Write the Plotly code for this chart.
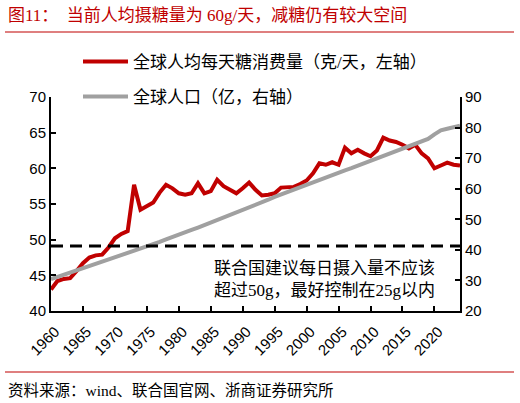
import plotly.graph_objects as go

years = list(range(1960, 2025))
sugar = [43.0, 44.2, 44.5, 44.6, 45.6, 46.7, 47.5, 47.8, 47.9, 48.9,
         50.2, 50.8, 51.2, 57.7, 54.2, 54.7, 55.2, 56.6, 57.7, 57.2,
         56.5, 56.3, 56.5, 57.9, 56.5, 56.8, 58.4, 57.5, 57.0, 56.5,
         57.2, 58.0, 57.0, 56.2, 56.3, 56.5, 57.3, 57.4, 57.4, 57.8,
         58.3, 59.3, 60.7, 60.5, 60.85, 60.5, 62.9, 62.1, 62.6, 62.1,
         61.7, 62.5, 64.3, 63.9, 63.7, 63.3, 62.8, 63.3, 62.1, 61.4,
         60.0, 60.4, 60.8, 60.5, 60.4]
population = [30.4, 31.1, 31.8, 32.6, 33.3, 34.0, 34.7, 35.4, 36.2, 36.9,
              37.6, 38.3, 39.0, 39.8, 40.5, 41.2, 41.9, 42.6, 43.4, 44.1,
              44.8, 45.6, 46.5, 47.3, 48.1, 49.0, 49.8, 50.6, 51.4, 52.3,
              53.1, 53.9, 54.8, 55.6, 56.4, 57.3, 58.1, 58.9, 59.7, 60.6,
              61.4, 62.2, 63.1, 63.8, 64.5, 65.3, 66.0, 66.7, 67.5, 68.2,
              68.9, 69.7, 70.5, 71.3, 72.2, 73.0, 73.8, 74.6, 75.5, 76.3,
              77.8, 79.1, 79.6, 80.1, 80.6]
x_ticks = list(range(1960, 2021, 5))
ref_line = 49.1

sugar_name = "全球人均每天糖消费量（克/天，左轴）"
pop_name = "全球人口（亿，右轴）"
title_text = "图11：  当前人均摄糖量为 60g/天，减糖仍有较大空间"
note_text = "联合国建议每日摄入量不应该<br>超过50g，最好控制在25g以内"
source_text = "资料来源：wind、联合国官网、浙商证券研究所"

RED = "#C00000"
GRAY = "#A0A0A0"
CJK = "Liberation Serif, Noto Sans CJK SC"
NUM = "Liberation Sans, Arial"

W, H = 520, 403
L, R, T, B = 51, 60, 97, 92
pw, ph = W - L - R, H - T - B


def px(xp):
    return (xp - L) / pw


def py(yp):
    return (H - B - yp) / ph


fig = go.Figure()
fig.add_trace(go.Scatter(x=years, y=sugar, name=sugar_name, mode="lines",
                         line=dict(color=RED, width=4), legend="legend"))
fig.add_trace(go.Scatter(x=years, y=population, name=pop_name, mode="lines",
                         line=dict(color=GRAY, width=4), yaxis="y2",
                         legend="legend2"))

fig.add_shape(type="line", xref="paper", yref="y", x0=0, x1=1,
              y0=ref_line, y1=ref_line,
              line=dict(color="black", width=3, dash="12px,7px"))

# header / footer rules
fig.add_shape(type="line", xref="paper", yref="paper", x0=px(5), x1=px(514),
              y0=py(32), y1=py(32), line=dict(color=RED, width=1.2))
fig.add_shape(type="line", xref="paper", yref="paper", x0=px(5), x1=px(514),
              y0=py(372), y1=py(372), line=dict(color=RED, width=1.2))

fig.add_annotation(text=title_text, xref="paper", yref="paper", x=px(6), y=py(15),
                   xanchor="left", yanchor="middle", showarrow=False,
                   font=dict(family=CJK, size=17, color=RED))
fig.add_annotation(text=source_text, xref="paper", yref="paper", x=px(6), y=py(390),
                   xanchor="left", yanchor="middle", showarrow=False,
                   font=dict(family=CJK, size=15.5, color="black"))
fig.add_annotation(text=note_text, xref="paper", yref="paper", x=px(212), y=py(279),
                   xanchor="left", yanchor="middle", align="left", showarrow=False,
                   font=dict(family=CJK, size=17, color="black"))

leg_common = dict(xanchor="left", yanchor="middle", bgcolor="rgba(0,0,0,0)",
                  font=dict(family=CJK, size=17, color="black"), itemwidth=45)
fig.update_layout(
    width=W, height=H,
    margin=dict(l=L, r=R, t=T, b=B, autoexpand=False),
    plot_bgcolor="white", paper_bgcolor="white",
    showlegend=True,
    legend=dict(x=px(78), y=py(62), **leg_common),
    legend2=dict(x=px(78), y=py(97), **leg_common),
    xaxis=dict(range=[1960, 2024], tickmode="array", tickvals=x_ticks,
               ticktext=[str(v) for v in x_ticks], tickangle=-45,
               ticklabelstandoff=4, ticklabelshift=4,
               ticks="inside", ticklen=5, tickcolor="black", tickwidth=1.5,
               showline=True, linecolor="black", linewidth=2, showgrid=False,
               zeroline=False, tickfont=dict(family=NUM, size=15, color="black")),
    yaxis=dict(range=[40, 70], dtick=5, ticks="inside", ticklen=5,
               tickcolor="black", tickwidth=1.5, showline=True, linecolor="black",
               linewidth=2, showgrid=False, zeroline=False,
               tickfont=dict(family=NUM, size=15, color="black")),
    yaxis2=dict(range=[20, 90], dtick=10, overlaying="y", side="right",
                ticks="inside", ticklen=5, tickcolor="black", tickwidth=1.5,
                showline=True, linecolor="black", linewidth=2, showgrid=False,
                zeroline=False, tickfont=dict(family=NUM, size=15, color="black")),
)

fig.write_html("out.html", config={"displayModeBar": False},
               post_script="document.body.style.margin='0';document.body.style.overflow='hidden';")
